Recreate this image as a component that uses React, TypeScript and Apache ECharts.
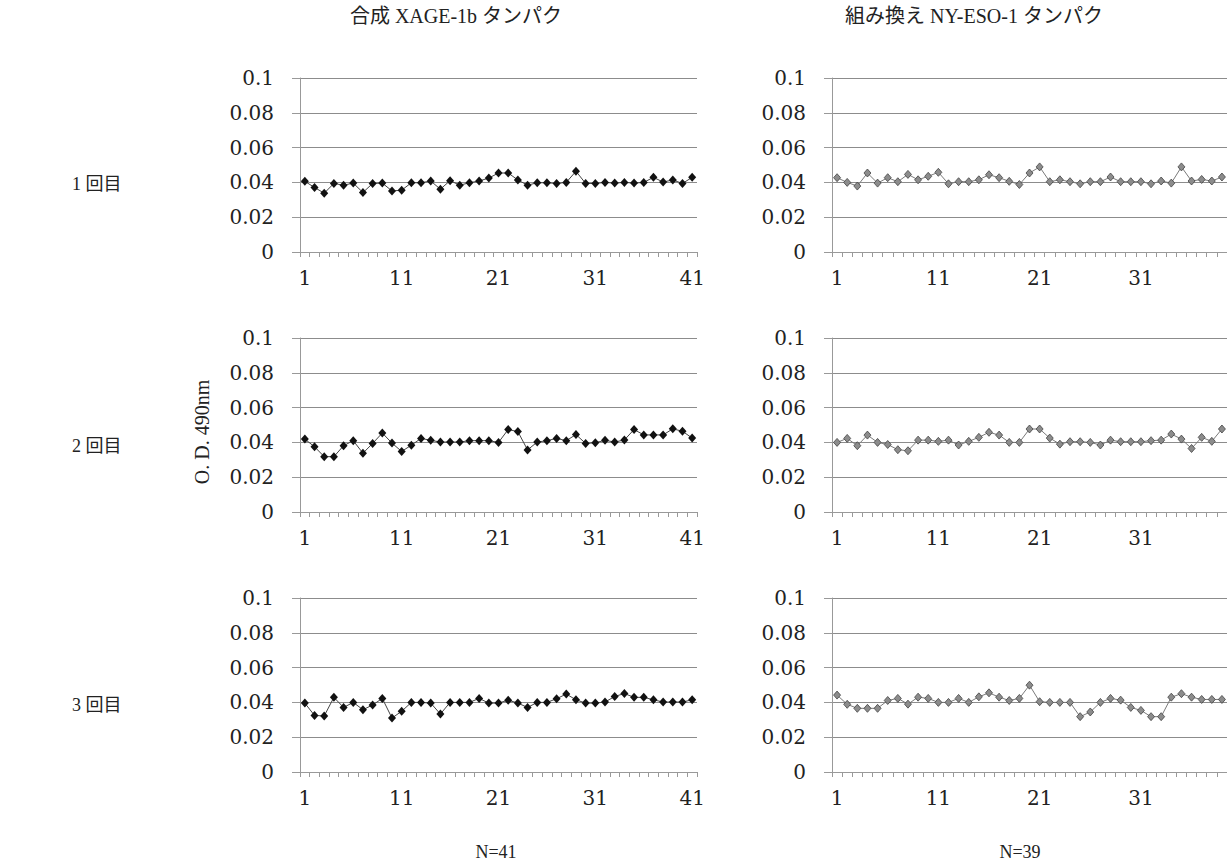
import React, { useEffect, useRef } from "react";
import * as echarts from "echarts";

// Categories (sample numbers)
const xageCategories = Array.from({ length: 41 }, (_, i) => String(i + 1));
const nyesoCategories = Array.from({ length: 39 }, (_, i) => String(i + 1));

// Titles and labels
const columnTitles = ["合成 XAGE-1b タンパク", "組み換え NY-ESO-1 タンパク"];
const rowLabels = ["1 回目", "2 回目", "3 回目"];
const nLabels = ["N=41", "N=39"];
const yAxisTitle = "O. D. 490nm";

// Synthetic XAGE-1b protein, O.D. 490nm (runs 1-3)
const xageRun1 = [
  0.0406, 0.0371, 0.0338, 0.0394, 0.0384, 0.0396, 0.0342, 0.0394, 0.0396, 0.0351,
  0.0355, 0.0398, 0.0398, 0.0408, 0.0361, 0.041, 0.0384, 0.0398, 0.0408, 0.0425,
  0.0454, 0.0454, 0.0414, 0.0384, 0.0398, 0.0398, 0.0394, 0.04, 0.0464, 0.0394,
  0.0394, 0.04, 0.0396, 0.04, 0.0396, 0.04, 0.0429, 0.0402, 0.0414, 0.0394, 0.0429,
];
const xageRun2 = [
  0.0419, 0.0375, 0.0318, 0.0318, 0.0381, 0.041, 0.0338, 0.0394, 0.0454, 0.0396,
  0.0348, 0.0384, 0.0423, 0.0412, 0.0402, 0.0402, 0.0402, 0.041, 0.041, 0.041,
  0.04, 0.0474, 0.0462, 0.0357, 0.0402, 0.041, 0.0423, 0.041, 0.0445, 0.0394,
  0.0398, 0.0412, 0.0402, 0.0414, 0.0474, 0.0443, 0.0443, 0.0443, 0.0478, 0.0464, 0.0425,
];
const xageRun3 = [
  0.0396, 0.0325, 0.0322, 0.0429, 0.0371, 0.04, 0.0358, 0.0385, 0.0423, 0.031,
  0.0349, 0.04, 0.04, 0.0396, 0.0333, 0.04, 0.04, 0.04, 0.0423, 0.0396,
  0.0396, 0.0413, 0.0396, 0.0371, 0.04, 0.04, 0.0421, 0.0448, 0.0415, 0.0396,
  0.0396, 0.0402, 0.0434, 0.0451, 0.0429, 0.0429, 0.0415, 0.0402, 0.0402, 0.0402, 0.0415,
];

// Recombinant NY-ESO-1 protein, O.D. 490nm (runs 1-3)
const nyesoRun1 = [
  0.0427, 0.04, 0.0379, 0.0454, 0.0396, 0.0427, 0.0404, 0.0446, 0.0415, 0.0435,
  0.0458, 0.0392, 0.0404, 0.0404, 0.0415, 0.0444, 0.0427, 0.0406, 0.0388, 0.0454,
  0.0489, 0.0404, 0.0415, 0.0404, 0.0392, 0.0404, 0.0404, 0.0431, 0.0404, 0.0404,
  0.0404, 0.0392, 0.0408, 0.0396, 0.0489, 0.0408, 0.0417, 0.0408, 0.0431,
];
const nyesoRun2 = [
  0.04, 0.0423, 0.0381, 0.0442, 0.04, 0.0388, 0.0358, 0.0352, 0.0413, 0.0413,
  0.0406, 0.0413, 0.0385, 0.0406, 0.0429, 0.0458, 0.0442, 0.04, 0.04, 0.0477,
  0.0477, 0.0425, 0.039, 0.0404, 0.0404, 0.04, 0.0385, 0.0413, 0.0404, 0.0404,
  0.0404, 0.041, 0.0413, 0.0448, 0.0419, 0.0365, 0.0429, 0.0406, 0.0477,
];
const nyesoRun3 = [
  0.0442, 0.0389, 0.0366, 0.0366, 0.0366, 0.0411, 0.0423, 0.039, 0.043, 0.0423,
  0.04, 0.04, 0.0423, 0.04, 0.0432, 0.0455, 0.043, 0.0411, 0.0423, 0.0499,
  0.0404, 0.04, 0.04, 0.04, 0.0318, 0.0345, 0.04, 0.0423, 0.0413, 0.0371,
  0.0354, 0.0318, 0.0318, 0.043, 0.045, 0.043, 0.0417, 0.0417, 0.0417,
];

const yMin = 0;
const yMax = 0.1;
const yInterval = 0.02;

const TICK_FONT = "'DejaVu Serif', serif";
const TEXT_FONT = "'Liberation Serif', 'Noto Sans CJK JP', serif";

export default function App() {
  const ref = useRef<HTMLDivElement>(null);

  useEffect(() => {
    if (!ref.current) return;
    const chart = echarts.init(ref.current, null, { renderer: "svg" });

    const rowTops = [78, 338, 598];
    const panels = [
      { col: 0, row: 0, cats: xageCategories, data: xageRun1 },
      { col: 1, row: 0, cats: nyesoCategories, data: nyesoRun1 },
      { col: 0, row: 1, cats: xageCategories, data: xageRun2 },
      { col: 1, row: 1, cats: nyesoCategories, data: nyesoRun2 },
      { col: 0, row: 2, cats: xageCategories, data: xageRun3 },
      { col: 1, row: 2, cats: nyesoCategories, data: nyesoRun3 },
    ];

    const grid = panels.map((p) => ({
      left: p.col === 0 ? 300 : 832,
      width: p.col === 0 ? 397 : 404,
      top: rowTops[p.row],
      height: 174,
    }));

    const xAxis = panels.map((p, i) => ({
      type: "category",
      gridIndex: i,
      data: p.cats,
      boundaryGap: true,
      axisLine: { show: true, lineStyle: { color: "#999", width: 1 } },
      axisTick: { show: true, interval: 0, length: 5, lineStyle: { color: "#999" } },
      axisLabel: {
        interval: 9,
        margin: 16,
        fontFamily: TICK_FONT,
        fontSize: 20,
        color: "#222",
      },
      splitLine: { show: false },
    }));

    const yAxis = panels.map((p, i) => ({
      type: "value",
      gridIndex: i,
      min: yMin,
      max: yMax,
      interval: yInterval,
      axisLine: { show: true, lineStyle: { color: "#999", width: 1 } },
      axisTick: { show: true, length: 8, lineStyle: { color: "#999" } },
      axisLabel: {
        margin: 26,
        fontFamily: TICK_FONT,
        fontSize: 20,
        color: "#222",
        formatter: (v: number) => (v === 0 ? "0" : String(parseFloat(v.toFixed(2)))),
      },
      splitLine: { show: true, lineStyle: { color: "#8c8c8c", width: 1 } },
    }));

    const series = panels.map((p, i) => ({
      type: "line",
      xAxisIndex: i,
      yAxisIndex: i,
      data: p.data,
      symbol: "diamond",
      symbolSize: p.col === 0 ? [8, 9] : [7, 8],
      showSymbol: true,
      showAllSymbol: true,
      lineStyle: { width: 1, color: p.col === 0 ? "#444" : "#7a7a7a" },
      itemStyle:
        p.col === 0
          ? { color: "#111", borderColor: "#111", borderWidth: 0 }
          : { color: "#8c8c8c", borderColor: "#444", borderWidth: 0.8 },
    }));

    const graphic: any[] = [];
    const titleX = [456, 974];
    columnTitles.forEach((t, i) => {
      graphic.push({
        type: "text",
        x: titleX[i],
        y: 16,
        style: {
          text: t,
          font: `20px ${TEXT_FONT}`,
          fill: "#222",
          textAlign: "center",
          textVerticalAlign: "middle",
        },
      });
    });
    const rowY = [184, 446, 705];
    rowLabels.forEach((t, i) => {
      graphic.push({
        type: "text",
        x: 72,
        y: rowY[i],
        style: {
          text: t,
          font: `18px ${TEXT_FONT}`,
          fill: "#222",
          textAlign: "left",
          textVerticalAlign: "middle",
        },
      });
    });
    const nX = [496, 1020];
    nLabels.forEach((t, i) => {
      graphic.push({
        type: "text",
        x: nX[i],
        y: 852,
        style: {
          text: t,
          font: `18px ${TEXT_FONT}`,
          fill: "#222",
          textAlign: "center",
          textVerticalAlign: "middle",
        },
      });
    });
    graphic.push({
      type: "text",
      x: 202,
      y: 432,
      rotation: Math.PI / 2,
      style: {
        text: yAxisTitle,
        font: `20px ${TEXT_FONT}`,
        fill: "#222",
        textAlign: "center",
        textVerticalAlign: "middle",
      },
    });

    chart.setOption({
      animation: false,
      backgroundColor: "#ffffff",
      grid,
      xAxis,
      yAxis,
      series,
      graphic,
    });

    return () => {
      chart.dispose();
    };
  }, []);

  return (
    <div
      ref={ref}
      style={{ position: "absolute", left: 0, top: 0, width: 1227, height: 863 }}
    />
  );
}
